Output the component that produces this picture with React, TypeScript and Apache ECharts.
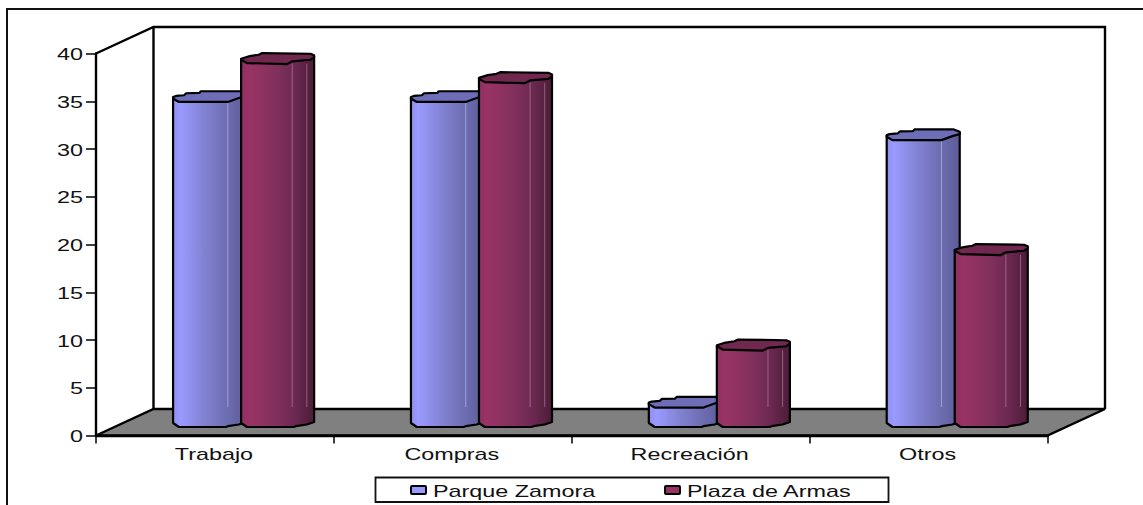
import React, { useEffect, useRef } from "react";
import * as echarts from "echarts";

const categories = ["Trabajo", "Compras", "Recreación", "Otros"];
const seriesNames = ["Parque Zamora", "Plaza de Armas"];
const parqueZamora = [35, 35, 3, 31];
const plazaDeArmas = [39, 37, 9, 19];
const yTicks = [0, 5, 10, 15, 20, 25, 30, 35, 40];

const FONT = '16px "Liberation Sans", Arial, sans-serif';
const STRETCH = 1.46;
const DEPTH_X = 57.5;
const DEPTH_Y = 26.5;

// Foot of a column: [fraction of width, px above the floor line]
const footOutline = [
  [1, 5], [0.9, 2.5], [0.75, 0.8], [0.72, 0], [0.08, 0], [0, 4],
];

const palettes = [
  {
    stops: [[0, "#8f8ff0"], [0.1, "#9a9aff"], [0.45, "#8080d0"], [0.75, "#6c6cb0"], [1, "#5c5c98"]],
    cap: "#6e6eb8",
    seam: "rgba(215,215,255,0.5)",
    seams: [0.75],
    swatch: "#9999ff",
    // Faceted cap outline: [fraction of width, px below the highest point]
    capOutline: [
      [0, 5.7], [0.04, 4.7], [0.15, 4], [0.18, 2], [0.36, 1.7], [0.38, 0], [0.92, 0],
      [1, 2.3], [1, 4.7], [0.9, 6.7], [0.75, 10.7], [0.08, 10.7], [0, 7.3],
    ],
  },
  {
    stops: [[0, "#8f3060"], [0.12, "#993366"], [0.5, "#80305c"], [0.75, "#6a2850"], [1, "#4c1c38"]],
    cap: "#70284f",
    seam: "rgba(220,170,195,0.45)",
    seams: [0.7, 0.9],
    swatch: "#993366",
    capOutline: [
      [0, 5.7], [0.12, 3], [0.24, 1.7], [0.29, 0], [0.95, 0.7], [1, 2.3], [1, 4],
      [0.95, 6.7], [0.7, 8.3], [0.63, 11], [0.08, 10], [0, 6.7],
    ],
  },
];

function column(seriesIndex: number, params: any, api: any) {
  const idx = api.value(0);
  const val = api.value(1);
  const band = api.size([1, 0])[0];
  const center = api.coord([idx, 0]);
  const width = band * 0.307;
  const left = center[0] - band / 2 + band * 0.324 + seriesIndex * band * 0.286;
  const floorY = center[1] - 8.5;
  const topY = api.coord([idx, val])[1] - 10;
  const pal = palettes[seriesIndex];
  const px = (u: number) => left + u * width;
  const bodyPts = [
    [px(0), topY + 6.5],
    [px(1), topY + 3.5],
    ...footOutline.map(([u, d]) => [px(u), floorY - d]),
  ];
  const capPts = pal.capOutline.map(([u, d]) => [px(u), topY + d]);
  const fill = new echarts.graphic.LinearGradient(
    0, 0, 1, 0,
    pal.stops.map(([offset, color]) => ({ offset: offset as number, color: color as string }))
  );
  const seams = pal.seams.map((u) => ({
    type: "line",
    shape: { x1: px(u), y1: topY + 10.7, x2: px(u), y2: floorY - 20 },
    style: { stroke: pal.seam, lineWidth: 1 },
  }));
  return {
    type: "group",
    children: [
      { type: "polygon", shape: { points: bodyPts }, style: { fill, stroke: "#000", lineWidth: 2.2, lineJoin: "round" } },
      ...(floorY - topY > 40 ? seams : []),
      { type: "polygon", shape: { points: capPts }, style: { fill: pal.cap, stroke: "#000", lineWidth: 2.2, lineJoin: "round" } },
    ],
  };
}

// Back walls and grey floor behind the axes
function room(params: any, api: any) {
  const cs = params.coordSys;
  const x0 = cs.x;
  const x1 = cs.x + cs.width;
  const y0 = cs.y + cs.height;
  const yT = cs.y;
  const stroke = { stroke: "#000", lineWidth: 2.4 };
  return {
    type: "group",
    children: [
      {
        type: "polygon",
        shape: { points: [[x0, y0], [x0 + DEPTH_X, y0 - DEPTH_Y], [x1 + DEPTH_X, y0 - DEPTH_Y], [x1, y0]] },
        style: { fill: "#808080", ...stroke },
      },
      {
        type: "polyline",
        shape: {
          points: [
            [x0, yT],
            [x0 + DEPTH_X, yT - DEPTH_Y],
            [x1 + DEPTH_X, yT - DEPTH_Y],
            [x1 + DEPTH_X, y0 - DEPTH_Y],
          ],
        },
        style: { fill: "none", ...stroke },
      },
      {
        type: "line",
        shape: { x1: x0 + DEPTH_X, y1: yT - DEPTH_Y, x2: x0 + DEPTH_X, y2: y0 - DEPTH_Y },
        style: stroke,
      },
    ],
  };
}

function wideText(text: string, x: number, y: number, align: string) {
  return {
    type: "text",
    x,
    y,
    scaleX: STRETCH,
    style: { text, fill: "#111", font: FONT, textAlign: align, textVerticalAlign: "middle" },
  };
}

function App() {
  const ref = useRef<HTMLDivElement>(null);

  useEffect(() => {
    document.body.style.margin = "0";
    const chart = echarts.init(ref.current, undefined, { renderer: "svg" });
    const legendItems = seriesNames.flatMap((name, i) => {
      const swatchX = i === 0 ? 411 : 665;
      return [
        {
          type: "rect",
          shape: { x: swatchX, y: 486, width: 15, height: 8, r: 1 },
          style: { fill: palettes[i].swatch, stroke: "#000", lineWidth: 2 },
        },
        wideText(name, swatchX + 22, 491, "left"),
      ];
    });
    chart.setOption({
      animation: false,
      backgroundColor: "#fff",
      grid: { left: 96, top: 53.5, width: 951.5, height: 382 },
      xAxis: {
        type: "category",
        data: categories,
        z: 3,
        axisLine: { lineStyle: { color: "#000", width: 2.4 } },
        axisTick: { show: true, length: 8, alignWithLabel: false, lineStyle: { color: "#000", width: 1.5 } },
        axisLabel: { show: false },
        splitLine: { show: false },
      },
      yAxis: {
        type: "value",
        min: 0,
        max: 40,
        interval: 5,
        z: 3,
        axisLine: { show: true, lineStyle: { color: "#000", width: 2.4 } },
        axisTick: { show: true, length: 10, lineStyle: { color: "#000", width: 1.5 } },
        axisLabel: { show: false },
        splitLine: { show: false },
      },
      graphic: [
        {
          type: "polyline",
          shape: { points: [[7, 505], [7, 9], [1143, 9]] },
          style: { fill: "none", stroke: "#111", lineWidth: 2 },
        },
        {
          type: "rect",
          shape: { x: 375.5, y: 477.5, width: 513, height: 24.5 },
          style: { fill: "#fff", stroke: "#111", lineWidth: 1.8 },
        },
        ...legendItems,
      ],
      series: [
        {
          type: "custom",
          name: "room",
          z: 1,
          silent: true,
          coordinateSystem: "cartesian2d",
          data: [[0, 0]],
          renderItem: room,
        },
        {
          type: "custom",
          name: seriesNames[0],
          z: 4,
          coordinateSystem: "cartesian2d",
          data: parqueZamora.map((v, i) => [i, v]),
          renderItem: (p: any, api: any) => column(0, p, api),
        },
        {
          type: "custom",
          name: seriesNames[1],
          z: 5,
          coordinateSystem: "cartesian2d",
          data: plazaDeArmas.map((v, i) => [i, v]),
          renderItem: (p: any, api: any) => column(1, p, api),
        },
        {
          type: "custom",
          name: "category labels",
          z: 6,
          silent: true,
          coordinateSystem: "cartesian2d",
          data: categories.map((_, i) => [i, 0]),
          renderItem: (p: any, api: any) => {
            const pt = api.coord([api.value(0), 0]);
            return wideText(categories[api.value(0)], pt[0] - 1, pt[1] + 19, "center");
          },
        },
        {
          type: "custom",
          name: "value labels",
          z: 6,
          silent: true,
          coordinateSystem: "cartesian2d",
          data: yTicks.map((v) => [0, v]),
          renderItem: (p: any, api: any) => {
            const y = api.coord([0, api.value(1)])[1];
            return wideText(String(api.value(1)), p.coordSys.x - 13, y + 1, "right");
          },
        },
      ],
    });
    return () => chart.dispose();
  }, []);

  return <div ref={ref} style={{ width: 1143, height: 505 }} />;
}

export default App;
